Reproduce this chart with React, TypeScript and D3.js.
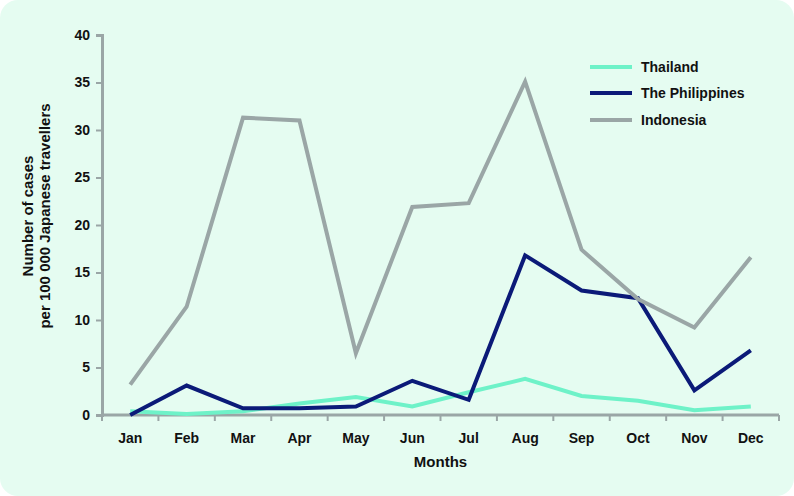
import { useEffect, useRef } from "react";
import * as d3 from "d3";

const months = ["Jan", "Feb", "Mar", "Apr", "May", "Jun", "Jul", "Aug", "Sep", "Oct", "Nov", "Dec"];
const thailand = [0.4, 0.1, 0.4, 1.2, 1.9, 0.9, 2.4, 3.8, 2.0, 1.5, 0.5, 0.9];
const philippines = [0, 3.1, 0.7, 0.7, 0.9, 3.6, 1.6, 16.8, 13.1, 12.3, 2.6, 6.8];
const indonesia = [3.2, 11.4, 31.3, 31.0, 6.5, 21.9, 22.3, 35.1, 17.4, 12.2, 9.2, 16.6];
const yTicks = [0, 5, 10, 15, 20, 25, 30, 35, 40];

const seriesNames = ["Thailand", "The Philippines", "Indonesia"];
const seriesColors = ["#6ef2c8", "#0b1a78", "#9aa6a6"];

export default function App() {
  const ref = useRef<SVGSVGElement>(null);

  useEffect(() => {
    const W = 794, H = 496;
    const svg = d3.select(ref.current);
    svg.selectAll("*").remove();
    const font = "Liberation Sans, Arial, sans-serif";

    svg.append("rect")
      .attr("x", 0).attr("y", 0).attr("width", W).attr("height", H)
      .attr("rx", 18).attr("fill", "#e5fcf1");

    const left = 102, right = 779, top = 35, bottom = 415;
    const x = d3.scaleBand().domain(months).range([left, right]);
    const y = d3.scaleLinear().domain([0, 40]).range([bottom, top]);

    const axisColor = "#9aa6a6";

    // y axis
    const yAxis = svg.append("g")
      .attr("transform", `translate(${left},0)`)
      .call(d3.axisLeft(y).tickValues(yTicks).tickSize(6).tickPadding(6));
    yAxis.select(".domain").attr("stroke", axisColor).attr("stroke-width", 3);
    yAxis.selectAll(".tick line").attr("stroke", axisColor).attr("stroke-width", 2);
    yAxis.selectAll(".tick text")
      .attr("font-family", font).attr("font-size", 14).attr("font-weight", "bold").attr("fill", "#111");

    // x axis
    const xa = svg.append("g").attr("transform", `translate(0,${bottom})`);
    xa.append("line").attr("x1", left).attr("x2", right).attr("y1", 0).attr("y2", 0)
      .attr("stroke", axisColor).attr("stroke-width", 3);
    const bounds = months.map((m) => x(m) as number).concat([right]);
    xa.selectAll("line.tk").data(bounds).join("line").attr("class", "tk")
      .attr("x1", (d) => d).attr("x2", (d) => d).attr("y1", 0).attr("y2", 6)
      .attr("stroke", axisColor).attr("stroke-width", 2);
    xa.selectAll("text").data(months).join("text")
      .attr("x", (d) => (x(d) as number) + x.bandwidth() / 2)
      .attr("y", 28)
      .attr("text-anchor", "middle")
      .attr("font-family", font).attr("font-size", 14).attr("font-weight", "bold").attr("fill", "#111")
      .text((d) => d);

    svg.append("text")
      .attr("x", (left + right) / 2).attr("y", 467)
      .attr("text-anchor", "middle")
      .attr("font-family", font).attr("font-size", 15).attr("font-weight", "bold").attr("fill", "#111")
      .text("Months");

    const yt = svg.append("text")
      .attr("transform", `translate(0,216) rotate(-90)`)
      .attr("text-anchor", "middle")
      .attr("font-family", font).attr("font-size", 15).attr("font-weight", "bold").attr("fill", "#111");
    yt.append("tspan").attr("x", 0).attr("y", 33).text("Number of cases");
    yt.append("tspan").attr("x", 0).attr("y", 50).text("per 100 000 Japanese travellers");

    const line = d3.line<number>()
      .x((_, i) => (x(months[i]) as number) + x.bandwidth() / 2)
      .y((d) => y(d));

    [thailand, philippines, indonesia].forEach((s, i) => {
      svg.append("path")
        .datum(s)
        .attr("d", line)
        .attr("fill", "none")
        .attr("stroke", seriesColors[i])
        .attr("stroke-width", 4);
    });

    const legendY = [67, 93, 120];
    seriesNames.forEach((n, i) => {
      svg.append("line")
        .attr("x1", 590).attr("x2", 632).attr("y1", legendY[i]).attr("y2", legendY[i])
        .attr("stroke", seriesColors[i]).attr("stroke-width", 4);
      svg.append("text")
        .attr("x", 641).attr("y", legendY[i] + 5)
        .attr("font-family", font).attr("font-size", 14).attr("font-weight", "bold").attr("fill", "#111")
        .text(n);
    });
  }, []);

  return (
    <svg ref={ref} width={794} height={496}
      style={{ position: "absolute", left: 0, top: 0, display: "block" }} />
  );
}
